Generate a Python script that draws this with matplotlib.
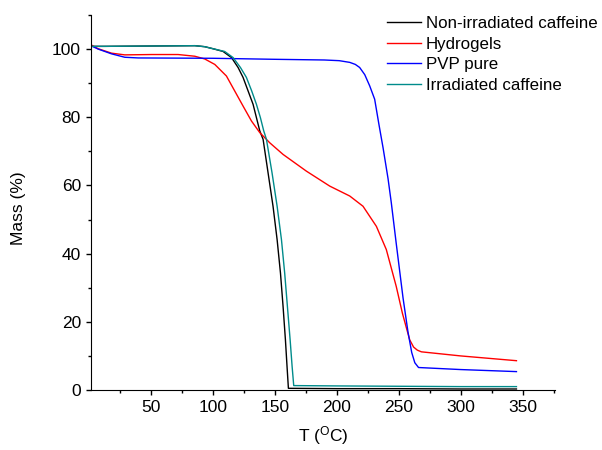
import numpy as np
import matplotlib
matplotlib.use('Agg')
import matplotlib.pyplot as plt

plt.rcParams['font.family'] = ['Liberation Sans', 'DejaVu Sans']
plt.rcParams['mathtext.default'] = 'regular'

# Non-irradiated caffeine
caf_T = [1.0, 13, 50, 85.5, 93.5, 100.2, 108.3, 115.1, 120.4, 124.4, 128.5, 132.5, 135.2, 137.9,
         140.6, 144.6, 148.6, 151.9, 154.6, 156.7, 158.6, 159.9, 161, 200, 250, 300, 345]
caf_m = [100.8, 100.8, 100.9, 101.0, 100.7, 100.1, 99.3, 97.5, 94.6, 91.7, 87.7, 83.8, 79.9, 76.0,
         73.5, 63.7, 53.9, 44.1, 34.3, 24.5, 14.7, 6.9, 0.5, 0.4, 0.4, 0.3, 0.3]

# Hydrogels
hyd_T = [1.0, 7.5, 18.3, 29, 50.6, 72, 85.5, 93.5, 101.6, 111, 117.7, 124.4, 131.2, 137.9, 146,
         156.7, 175.5, 194.4, 210.5, 221.2, 232, 240, 248, 253, 256, 258.9, 262, 265, 268.3, 300, 345]
hyd_m = [101.4, 100.1, 98.8, 98.3, 98.4, 98.4, 97.9, 97.1, 95.5, 92.1, 87.7, 83.3, 78.9, 75.5, 72.5,
         69.1, 64.2, 59.8, 56.9, 53.9, 48.0, 41.2, 30.4, 22.5, 18.5, 14.7, 12.6, 11.7, 11.2, 10.0, 8.6]

# PVP pure
pvp_T = [1.0, 7.5, 18.3, 29, 39.8, 100, 150, 190, 202, 210.5, 215, 218.5, 222.6, 226.6, 230.6,
         234, 237.4, 241.4, 244, 248, 253.5, 257.5, 260.5, 263, 266, 300, 345]
pvp_m = [101.1, 100.0, 98.6, 97.6, 97.4, 97.3, 97.0, 96.8, 96.6, 96.1, 95.5, 94.6, 92.5, 89.2, 85.3,
         78.0, 71.0, 62.0, 55.0, 43.0, 27.0, 17.0, 11.0, 8.0, 6.6, 6.0, 5.4]

# Irradiated caffeine
irr_T = [1.0, 13, 50, 85.5, 93.5, 100.2, 109.6, 116.4, 122.3, 127.1, 131.4, 135.2, 138.4, 141.1,
         143.3, 147.8, 151.9, 155.4, 158, 160.2, 162.4, 164, 165.3, 200, 250, 300, 345]
irr_m = [100.8, 100.8, 100.9, 101.0, 100.7, 100.1, 99.3, 97.5, 94.6, 91.7, 87.7, 83.8, 79.9, 76.0,
         73.5, 63.7, 53.9, 44.1, 34.3, 24.5, 14.7, 6.9, 1.3, 1.2, 1.1, 1.0, 1.0]

fig = plt.figure(figsize=(6.02, 4.5), dpi=100)
ax = fig.add_axes([0.1507, 0.1333, 0.771, 0.8334])

ax.plot(caf_T, caf_m, color='black', lw=1.0, label='Non-irradiated caffeine')
ax.plot(hyd_T, hyd_m, color='#ff0000', lw=1.0, label='Hydrogels')
ax.plot(pvp_T, pvp_m, color='#0000ff', lw=1.0, label='PVP pure')
ax.plot(irr_T, irr_m, color='#008b8b', lw=1.0, label='Irradiated caffeine')

ax.set_xlim(1.5, 376)
ax.set_ylim(0, 110)
ax.set_xticks([50, 100, 150, 200, 250, 300, 350])
ax.set_xticks(np.arange(25, 376, 50), minor=True)
ax.set_yticks([0, 20, 40, 60, 80, 100])
ax.set_yticks([10, 30, 50, 70, 90, 110], minor=True)
ax.tick_params(which='major', direction='out', length=3.5, width=1, labelsize=12.5)
ax.tick_params(which='minor', direction='out', length=2, width=1)
for s in ['top', 'right']:
    ax.spines[s].set_visible(False)

ax.set_xlabel('T ($^{O}$C)', fontsize=12.5)
ax.set_ylabel('Mass (%)', fontsize=12.5)
ax.xaxis.set_label_coords(0.5, -0.09)
ax.yaxis.set_label_coords(-0.14, 0.485)

fig.legend(loc='upper left', bbox_to_anchor=(0.643, 0.964), frameon=False,
           fontsize=12.2, handlelength=2.0, handletextpad=0.3,
           labelspacing=0.33, borderpad=0, borderaxespad=0)

fig.savefig('out.png', dpi=100)
